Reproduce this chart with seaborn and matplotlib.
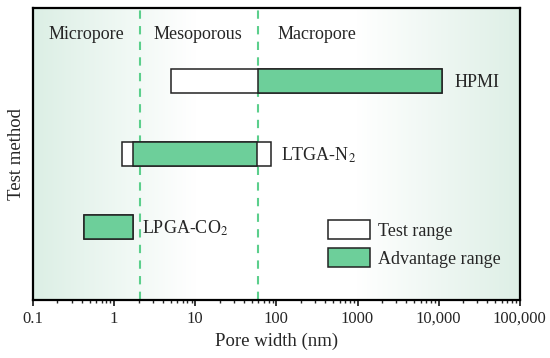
import numpy as np
import matplotlib
matplotlib.use('Agg')
import matplotlib.pyplot as plt
from matplotlib.colors import LinearSegmentedColormap
from matplotlib.patches import Patch
import matplotlib.ticker as mticker
import seaborn as sns

# Datos
methods = ['LPGA-CO$_2$', 'LTGA-N$_2$', 'HPMI']
method_pos = [1, 2, 3]
test_lo = [0.42, 1.25, 5.0]
test_hi = [1.7, 85.0, 11000.0]
adv_lo = [0.42, 1.7, 60.0]
adv_hi = [1.7, 58.0, 11000.0]
label_x = [2.2, 115.0, 15500.0]

boundaries = [2.1, 60.0]
regions = ['Micropore', 'Mesoporous', 'Macropore']
region_x = [0.155, 3.1, 102.0]

xticks = [0.1, 1, 10, 100, 1000, 10000, 100000]
xticklabels = ['0.1', '1', '10', '100', '1000', '10,000', '100,000']

GREEN = '#6dcf9a'
DASH = '#5ccf8c'

sns.set_style('ticks')
plt.rcParams['font.family'] = ['Liberation Serif', 'DejaVu Serif']
plt.rcParams['mathtext.fontset'] = 'stix'

fig = plt.figure(figsize=(5.5, 3.58), dpi=100)
ax = fig.add_axes([0.06, 0.162, 0.885, 0.816])

# fondo degradado
cmap = LinearSegmentedColormap.from_list('bg', ['#dcefe5', '#ffffff', '#ffffff', '#deefe6'], N=256)
grad = np.linspace(0, 1, 256).reshape(1, -1)
ax.imshow(grad, extent=[0, 1, 0, 1], transform=ax.transAxes, aspect='auto',
          cmap=cmap, zorder=0, interpolation='bilinear')

for b in boundaries:
    ax.axvline(b, color=DASH, lw=1.5, ls=(0, (4, 3.5)), zorder=1)

h = 0.33
ax.barh(method_pos, np.array(test_hi) - np.array(test_lo), left=test_lo, height=h,
        color='white', edgecolor='#222222', lw=1.1, zorder=2)
ax.barh(method_pos, np.array(adv_hi) - np.array(adv_lo), left=adv_lo, height=h,
        color=GREEN, edgecolor='#222222', lw=1.1, zorder=3)

for name, x, y in zip(methods, label_x, method_pos):
    ax.text(x, y - 0.02, name, fontsize=13, va='center', ha='left', zorder=4)

for name, x in zip(regions, region_x):
    ax.text(x, 3.64, name, fontsize=13, va='center', ha='left', zorder=4)

ax.set_xscale('log')
ax.set_xlim(0.1, 100000)
ax.set_ylim(0, 4)
ax.set_xticks(xticks)
ax.set_xticklabels(xticklabels)
ax.xaxis.set_minor_locator(mticker.LogLocator(base=10, subs=np.arange(2, 10), numticks=20))
ax.xaxis.set_minor_formatter(mticker.NullFormatter())
ax.set_yticks([])
ax.tick_params(axis='x', which='major', direction='out', length=4, width=1.3, labelsize=12, pad=4)
ax.tick_params(axis='x', which='minor', direction='out', length=2.5, width=1.0)

for s in ax.spines.values():
    s.set_linewidth(1.6)
    s.set_color('black')
    s.set_zorder(5)

ax.set_xlabel('Pore width (nm)', fontsize=13.5, labelpad=4)
ax.set_ylabel('Test method', fontsize=13.5, labelpad=6)

handles = [Patch(facecolor='white', edgecolor='#222222', lw=1.1, label='Test range'),
           Patch(facecolor=GREEN, edgecolor='#222222', lw=1.1, label='Advantage range')]
ax.legend(handles=handles, loc='upper left', bbox_to_anchor=(0.607, 0.275), frameon=False,
          fontsize=13, handlelength=2.3, handleheight=1.3, handletextpad=0.45,
          labelspacing=0.45, borderpad=0, borderaxespad=0)

plt.savefig('out.png', dpi=100)
